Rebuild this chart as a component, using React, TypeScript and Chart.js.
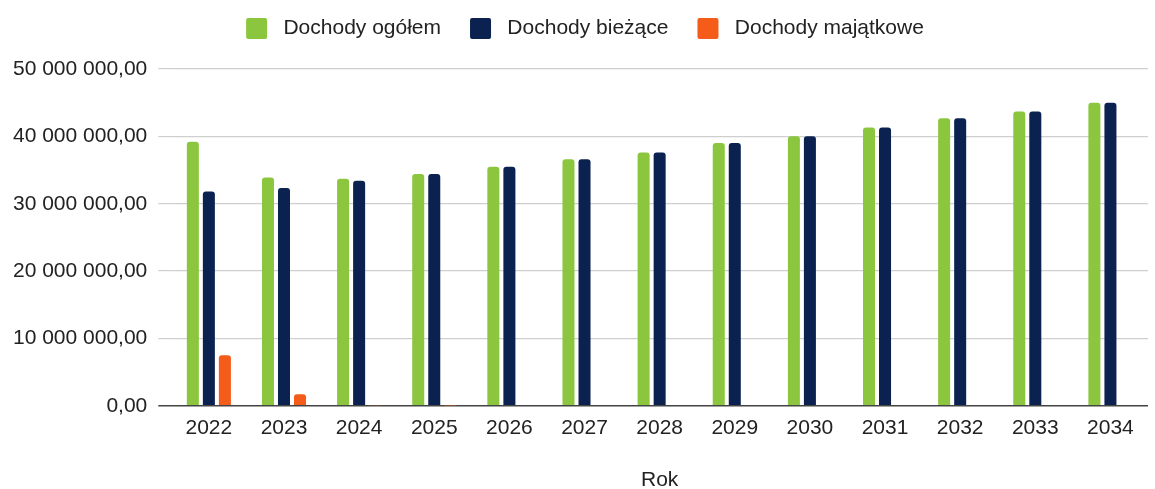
import React, { useEffect, useRef } from "react";
import { Chart, registerables } from "chart.js";

Chart.register(...registerables);

const categories = ["2022", "2023", "2024", "2025", "2026", "2027", "2028", "2029", "2030", "2031", "2032", "2033", "2034"];
const dochodyOgolem = [39200000, 33900000, 33700000, 34400000, 35500000, 36600000, 37600000, 39000000, 40000000, 41300000, 42700000, 43700000, 45000000];
const dochodyBiezace = [31800000, 32350000, 33400000, 34400000, 35500000, 36600000, 37600000, 39000000, 40000000, 41300000, 42700000, 43700000, 45000000];
const dochodyMajatkowe = [7500000, 1730000, 80000, 60000, 0, 0, 0, 0, 0, 0, 0, 0, 0];
const seriesNames = ["Dochody ogółem", "Dochody bieżące", "Dochody majątkowe"];
const yTicks = [0, 10000000, 20000000, 30000000, 40000000, 50000000];
const axisTitle = "Rok";

const FONT = "'Liberation Sans', Arial, Helvetica, sans-serif";

function fmt(v: number): string {
  const s = Math.round(v).toString().replace(/\B(?=(\d{3})+(?!\d))/g, " ");
  return s + ",00";
}

const legendMargin = {
  id: "legendMargin",
  beforeInit(chart: any) {
    const orig = chart.legend.fit;
    chart.legend.fit = function () {
      orig.bind(chart.legend)();
      this.height += 20;
    };
  },
  afterLayout(chart: any) {
    if (chart.legend) {
      chart.legend.left += 10;
      chart.legend.right += 10;
    }
  },
};

export default function App() {
  const ref = useRef<HTMLCanvasElement | null>(null);
  useEffect(() => {
    if (!ref.current) return;
    const colors = ["#8CC63F", "#0B2250", "#F55B19"];
    const values = [dochodyOgolem, dochodyBiezace, dochodyMajatkowe];
    const chart = new Chart(ref.current, {
      type: "bar",
      data: {
        labels: categories,
        datasets: values.map((d, i) => ({
          label: seriesNames[i],
          data: d,
          backgroundColor: colors[i],
          borderRadius: { topLeft: 3, topRight: 3, bottomLeft: 0, bottomRight: 0 },
          borderSkipped: "bottom" as const,
          barPercentage: 0.75,
          categoryPercentage: 0.64,
        })),
      },
      plugins: [legendMargin],
      options: {
        animation: false,
        responsive: true,
        maintainAspectRatio: false,
        layout: { padding: { left: 2, right: 7, top: -11, bottom: -3 } },
        plugins: {
          tooltip: { enabled: false },
          legend: {
            position: "top",
            labels: {
              font: { family: FONT, size: 21 },
              color: "#222",
              boxWidth: 21,
              boxHeight: 21,
              useBorderRadius: true,
              borderRadius: 2,
              padding: 29,
              generateLabels: (c: any) =>
                Chart.defaults.plugins.legend.labels.generateLabels(c).map((l: any) => ({ ...l, text: " " + l.text, lineWidth: 0 })),
            },
          },
        },
        scales: {
          x: {
            grid: { display: false, drawTicks: false },
            border: { display: false },
            ticks: { font: { family: FONT, size: 21 }, color: "#222", padding: 10 },
            title: {
              display: true,
              text: axisTitle,
              font: { family: FONT, size: 21, lineHeight: 1 },
              color: "#222",
              padding: { top: 19, bottom: 1 },
            },
          },
          y: {
            min: 0,
            max: 50000000,
            afterBuildTicks: (axis: any) => {
              axis.ticks = yTicks.map((v) => ({ value: v }));
            },
            grid: {
              color: (ctx: any) => (ctx.tick && ctx.tick.value === 0 ? "#444" : "#cfcfcf"),
              lineWidth: (ctx: any) => (ctx.tick && ctx.tick.value === 0 ? 1.5 : 1.2),
              tickLength: 13,
            },
            border: { display: false },
            ticks: {
              font: { family: FONT, size: 21 },
              color: "#222",
              padding: 11,
              callback: (v: any) => fmt(Number(v)),
            },
          },
        },
      },
    });
    return () => chart.destroy();
  }, []);
  return (
    <div style={{ position: "absolute", left: 0, top: 0, width: 1155, height: 489 }}>
      <canvas ref={ref} />
    </div>
  );
}
